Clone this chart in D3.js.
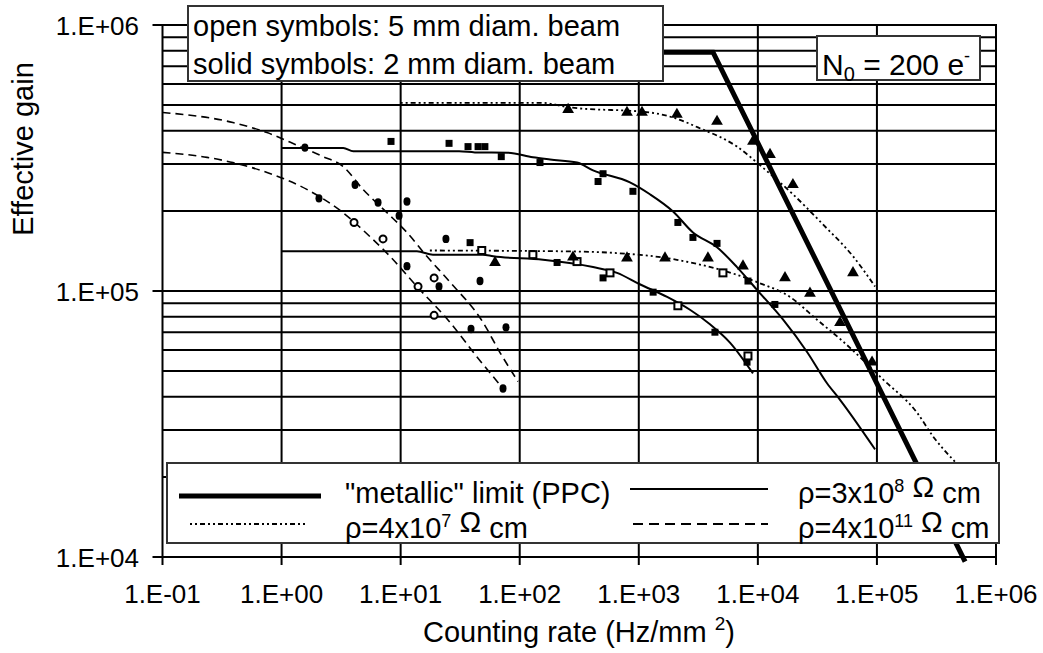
<!DOCTYPE html>
<html><head><meta charset="utf-8">
<script src="https://cdn.jsdelivr.net/npm/d3@7"></script>
<style>
body{margin:0;background:#fff}
text{font-family:"Liberation Sans",Arial,sans-serif;fill:#000}
</style>
</head><body>
<svg id="c" width="1043" height="653"></svg>
<script>
// ---- axes ----
const xTickVals = [1e-1, 1e0, 1e1, 1e2, 1e3, 1e4, 1e5, 1e6];
const xTickLabels = ["1.E-01","1.E+00","1.E+01","1.E+02","1.E+03","1.E+04","1.E+05","1.E+06"];
const yTickVals = [1e4, 1e5, 1e6];
const yTickLabels = ["1.E+04","1.E+05","1.E+06"];

// ---- curves ----
const metallicX = [500, 4200, 550000];
const metallicY = [7.9e5, 7.9e5, 9.6e3];

const rho8UpperX = [1, 3.3, 4, 31, 42, 80, 129, 180, 303, 413, 843, 1240, 1940, 2850, 4540, 6680, 9840, 16300, 25900, 38100, 49000, 96400];
const rho8UpperY = [3.45e5, 3.45e5, 3.35e5, 3.35e5, 3.32e5, 3.31e5, 3.18e5, 3.12e5, 3.04e5, 2.84e5, 2.56e5, 2.31e5, 1.99e5, 1.66e5, 1.46e5, 1.23e5, 1.01e5, 7.8e4, 5.9e4, 4.5e4, 3.9e4, 2.54e4];

const rho8LowerX = [1, 13.7, 18.7, 49, 60, 157, 413, 656, 1020, 1730, 2690, 3960, 5830, 9100];
const rho8LowerY = [1.41e5, 1.41e5, 1.37e5, 1.37e5, 1.35e5, 1.31e5, 1.23e5, 1.17e5, 1.06e5, 9.5e4, 8.5e4, 7.5e4, 6.4e4, 4.9e4];

const rho7UpperX = [10, 150, 264, 1240, 1940, 3140, 6680, 11000, 19700, 35200, 63000, 96400];
const rho7UpperY = [5.1e5, 5.1e5, 4.9e5, 4.69e5, 4.49e5, 4.12e5, 3.49e5, 2.91e5, 2.31e5, 1.78e5, 1.35e5, 1.04e5];

const rho7LowerX = [17.6, 231, 631, 2090, 9840, 18600, 31400, 51900, 112500, 217000, 296000, 453000];
const rho7LowerY = [1.42e5, 1.41e5, 1.39e5, 1.31e5, 1.08e5, 9.5e4, 7.8e4, 6.46e4, 4.65e4, 3.49e4, 2.84e4, 2.28e4];

const rho11AX = [0.1, 0.39, 0.755, 1.43, 2.23, 3.28, 4.83, 7.68, 11.3, 16.6, 26, 49.2, 68.3, 96.8];
const rho11AY = [4.69e5, 4.3e5, 3.94e5, 3.49e5, 3.2e5, 2.94e5, 2.41e5, 1.97e5, 1.66e5, 1.35e5, 1.08e5, 7.62e4, 5.87e4, 4.57e4];

const rho11BX = [0.1, 0.237, 0.39, 0.755, 1.63, 3.28, 5.53, 8.14, 13.7, 26, 43.8, 72.4];
const rho11BY = [3.32e5, 3.18e5, 3.04e5, 2.79e5, 2.41e5, 1.97e5, 1.6e5, 1.35e5, 1.04e5, 7.62e4, 5.65e4, 4.3e4];

// ---- markers ----
const solidSquaresX = [8.3, 25.5, 36.8, 44.7, 51, 70, 148, 455, 501, 893, 2130, 2850, 4540, 8260, 13900, 38.3, 206, 501, 1320, 4360, 8110];
const solidSquaresY = [3.65e5, 3.59e5, 3.49e5, 3.49e5, 3.49e5, 3.2e5, 3.04e5, 2.58e5, 2.76e5, 2.37e5, 1.81e5, 1.59e5, 1.51e5, 1.09e5, 8.9e4, 1.52e5, 1.28e5, 1.12e5, 9.9e4, 7.0e4, 5.4e4];
const openSquaresX = [48, 129, 303, 573, 2130, 5090, 8260];
const openSquaresY = [1.42e5, 1.37e5, 1.29e5, 1.17e5, 8.8e4, 1.17e5, 5.7e4];
const solidTrianglesX = [255, 796, 1064, 2090, 4540, 9100, 12650, 19700, 62950, 62, 280, 796, 1660, 3810, 7500, 16900, 27400, 49000, 91000];
const solidTrianglesY = [4.81e5, 4.69e5, 4.69e5, 4.61e5, 4.34e5, 3.65e5, 3.26e5, 2.51e5, 1.17e5, 1.28e5, 1.34e5, 1.33e5, 1.33e5, 1.33e5, 1.24e5, 1.12e5, 9.8e4, 7.6e4, 5.4e4];
const solidCirclesX = [1.57, 2.06, 4.14, 6.46, 11.3, 9.7, 24, 11.3, 21, 46.4, 76.7, 39, 72.4];
const solidCirclesY = [3.46e5, 2.23e5, 2.51e5, 2.15e5, 2.17e5, 1.92e5, 1.57e5, 1.24e5, 1.04e5, 1.09e5, 7.3e4, 7.2e4, 4.3e4];
const openCirclesX = [4.06, 7.11, 14, 19.1, 19.1];
const openCirclesY = [1.81e5, 1.57e5, 1.04e5, 1.12e5, 8.1e4];

const svg = d3.select('#c');
const x = d3.scaleLog().domain([0.1, 1e6]).range([162.5, 996]);
const y = d3.scaleLog().domain([1e4, 1e6]).range([557, 25]);

// grid values (all 1..9 multiples)
const yGrid = [];
for (let k = 4; k < 6; k++) for (let m = 1; m < 10; m++) yGrid.push(m * Math.pow(10, k));
yGrid.push(1e6);

const g = svg.append('g');
g.selectAll('line.hg').data(yGrid).enter().append('line')
  .attr('x1', x(0.1)).attr('x2', x(1e6))
  .attr('y1', d => y(d)).attr('y2', d => y(d))
  .attr('stroke', '#000').attr('stroke-width', 2);
g.selectAll('line.vg').data(xTickVals).enter().append('line')
  .attr('x1', d => x(d)).attr('x2', d => x(d))
  .attr('y1', y(1e6) - 1).attr('y2', y(1e4) + 8)
  .attr('stroke', '#000').attr('stroke-width', 2);
g.selectAll('line.yt').data(yTickVals).enter().append('line')
  .attr('x1', x(0.1) - 10).attr('x2', x(0.1))
  .attr('y1', d => y(d)).attr('y2', d => y(d))
  .attr('stroke', '#000').attr('stroke-width', 2);

// tick labels
svg.selectAll('text.xt').data(xTickVals).enter().append('text')
  .attr('x', d => x(d)).attr('y', 603).attr('text-anchor', 'middle')
  .attr('font-size', 26).text((d, i) => xTickLabels[i]);
svg.selectAll('text.yt').data(yTickVals).enter().append('text')
  .attr('x', 139).attr('y', d => y(d) + 9.5).attr('text-anchor', 'end')
  .attr('font-size', 26).text((d, i) => yTickLabels[i]);

// axis titles
const xt = svg.append('text').attr('x', 579).attr('y', 642).attr('text-anchor', 'middle').attr('font-size', 29);
xt.append('tspan').text('Counting rate (Hz/mm ');
xt.append('tspan').attr('font-size', 19).attr('dy', -12).text('2');
xt.append('tspan').attr('dy', 12).text(')');
svg.append('text').attr('transform', 'translate(33,149) rotate(-90)')
  .attr('text-anchor', 'middle').attr('font-size', 29).text('Effective gain');

// lines
const zip = (X, Y) => X.map((v, i) => [v, Y[i]]);
const lineLin = d3.line().x(d => x(d[0])).y(d => y(d[1]));
const lineSm = d3.line().x(d => x(d[0])).y(d => y(d[1])).curve(d3.curveMonotoneX);

const styles = {
  solid: {w: 2, dash: null},
  dotted: {w: 1.8, dash: '2,3,2,3,5,3'},
  dashed: {w: 1.6, dash: '8,5'}
};
function drawCurve(X, Y, st, gen) {
  svg.append('path').attr('d', (gen || lineSm)(zip(X, Y)))
    .attr('fill', 'none').attr('stroke', '#000')
    .attr('stroke-width', st.w).attr('stroke-dasharray', st.dash);
}
drawCurve(rho11AX, rho11AY, styles.dashed);
drawCurve(rho11BX, rho11BY, styles.dashed);
drawCurve(rho7UpperX, rho7UpperY, styles.dotted);
drawCurve(rho7LowerX, rho7LowerY, styles.dotted);
drawCurve(rho8UpperX, rho8UpperY, styles.solid);
drawCurve(rho8LowerX, rho8LowerY, styles.solid);
svg.append('path').attr('d', lineLin(zip(metallicX, metallicY)))
  .attr('fill', 'none').attr('stroke', '#000').attr('stroke-width', 5);

// markers
svg.selectAll('rect.ss').data(zip(solidSquaresX, solidSquaresY)).enter().append('rect')
  .attr('x', d => x(d[0]) - 3.5).attr('y', d => y(d[1]) - 3.5)
  .attr('width', 7).attr('height', 7).attr('fill', '#000');
svg.selectAll('rect.os').data(zip(openSquaresX, openSquaresY)).enter().append('rect')
  .attr('x', d => x(d[0]) - 3.5).attr('y', d => y(d[1]) - 3.5)
  .attr('width', 7).attr('height', 7).attr('fill', '#fff').attr('stroke', '#000').attr('stroke-width', 2);
svg.selectAll('path.st').data(zip(solidTrianglesX, solidTrianglesY)).enter().append('path')
  .attr('d', d3.symbol().type(d3.symbolTriangle).size(60))
  .attr('transform', d => `translate(${x(d[0])},${y(d[1])})`).attr('fill', '#000');
svg.selectAll('ellipse.sc').data(zip(solidCirclesX, solidCirclesY)).enter().append('ellipse')
  .attr('cx', d => x(d[0])).attr('cy', d => y(d[1])).attr('rx', 3.5).attr('ry', 4.2).attr('fill', '#000');
svg.selectAll('circle.oc').data(zip(openCirclesX, openCirclesY)).enter().append('circle')
  .attr('cx', d => x(d[0])).attr('cy', d => y(d[1])).attr('r', 3.5)
  .attr('fill', '#fff').attr('stroke', '#000').attr('stroke-width', 2);

// annotation boxes
svg.append('rect').attr('x', 188).attr('y', 6).attr('width', 475).attr('height', 75)
  .attr('fill', '#fff').attr('stroke', '#333').attr('stroke-width', 2);
svg.append('text').attr('x', 193).attr('y', 36).attr('font-size', 29).text('open symbols: 5 mm diam. beam');
svg.append('text').attr('x', 193).attr('y', 74).attr('font-size', 29).text('solid symbols: 2 mm diam. beam');

svg.append('rect').attr('x', 817).attr('y', 36).attr('width', 163).attr('height', 44)
  .attr('fill', '#fff').attr('stroke', '#333').attr('stroke-width', 2);
const nt = svg.append('text').attr('x', 822).attr('y', 75).attr('font-size', 30);
nt.append('tspan').text('N');
nt.append('tspan').attr('font-size', 20).attr('dy', 6).text('0');
nt.append('tspan').attr('dy', -6).text(' = 200 e');
nt.append('tspan').attr('font-size', 18).attr('dy', -13).text('-');

// legend
svg.append('rect').attr('x', 167).attr('y', 463).attr('width', 832).attr('height', 80)
  .attr('fill', '#fff').attr('stroke', '#333').attr('stroke-width', 2);
svg.append('line').attr('x1', 179).attr('x2', 321).attr('y1', 496).attr('y2', 496)
  .attr('stroke', '#000').attr('stroke-width', 5);
svg.append('line').attr('x1', 190).attr('x2', 305).attr('y1', 524).attr('y2', 524)
  .attr('stroke', '#000').attr('stroke-width', 1.8).attr('stroke-dasharray', '2,3,2,3,5,3');
svg.append('line').attr('x1', 630).attr('x2', 768).attr('y1', 489).attr('y2', 489)
  .attr('stroke', '#000').attr('stroke-width', 2);
svg.append('line').attr('x1', 633).attr('x2', 768).attr('y1', 524).attr('y2', 524)
  .attr('stroke', '#000').attr('stroke-width', 2).attr('stroke-dasharray', '10,6');

svg.append('text').attr('x', 345).attr('y', 503).attr('font-size', 29).text('"metallic" limit (PPC)');
function rhoLabel(xp, yp, base, exp) {
  const t = svg.append('text').attr('x', xp).attr('y', yp).attr('font-size', 29);
  t.append('tspan').text('ρ=' + base);
  t.append('tspan').attr('font-size', 18).attr('dy', -11).text(exp);
  t.append('tspan').attr('dy', 5).text(' Ω');
  t.append('tspan').attr('dy', 6).text(' cm');
}
rhoLabel(345, 538, '4x10', '7');
rhoLabel(798, 503, '3x10', '8');
rhoLabel(798, 538, '4x10', '11');
</script>
</body></html>
